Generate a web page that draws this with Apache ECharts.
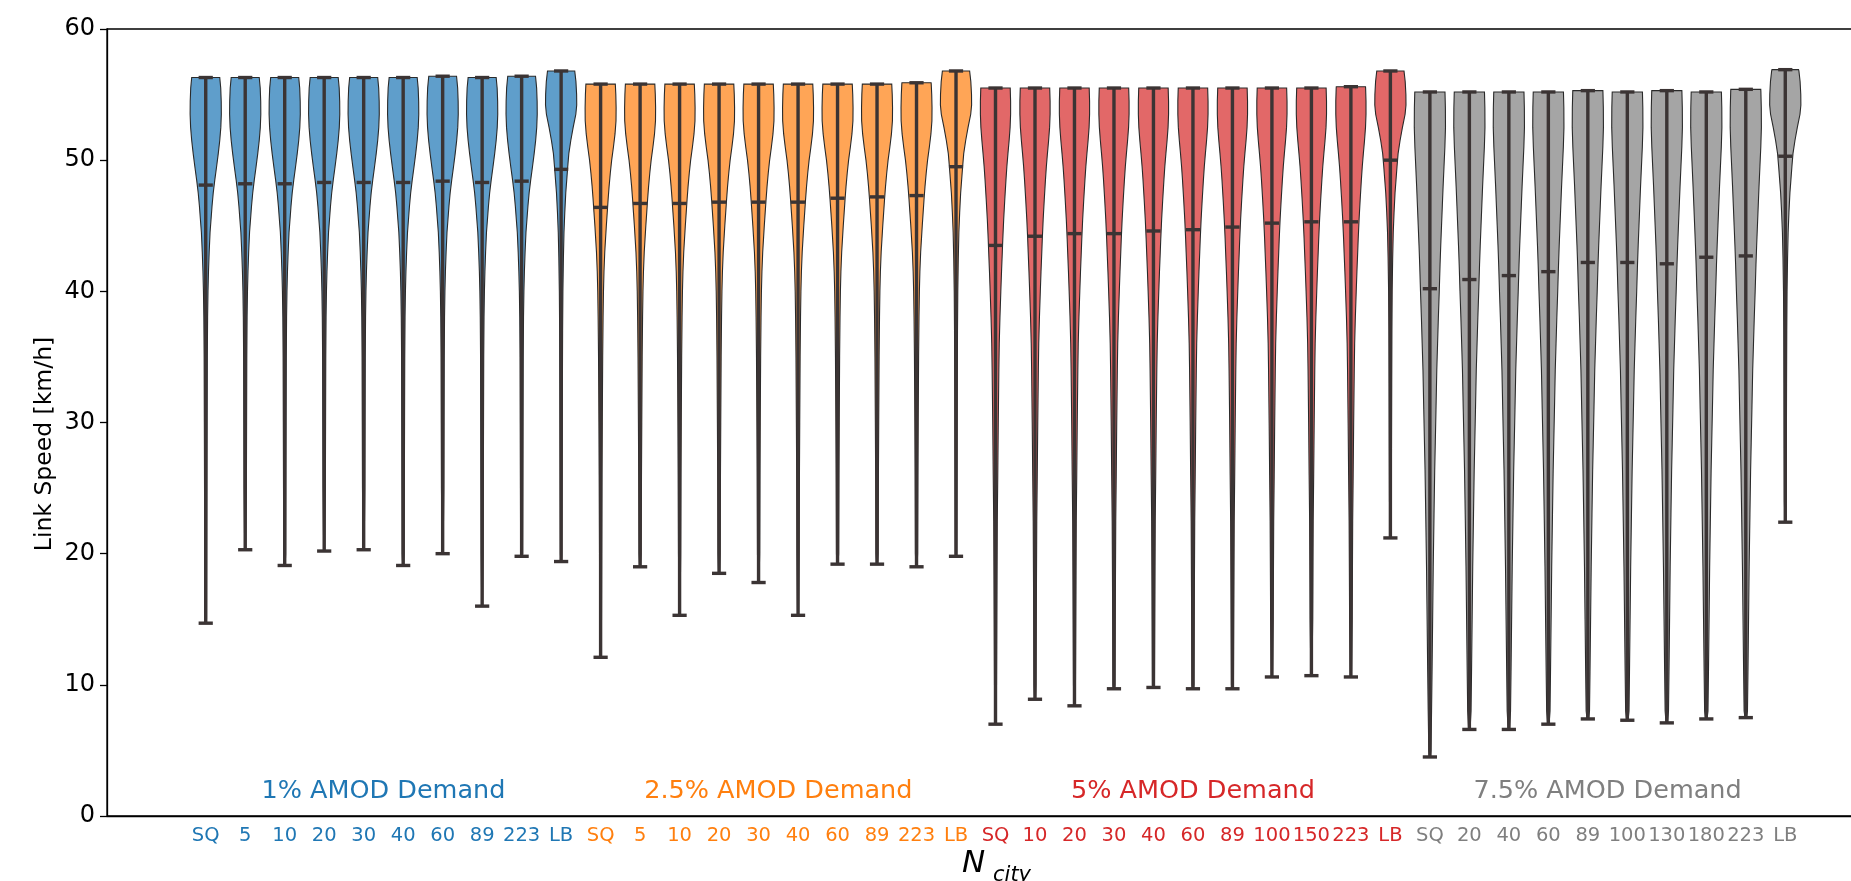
<!DOCTYPE html>
<html><head><meta charset="utf-8">
<script src="https://cdn.jsdelivr.net/npm/echarts@6/dist/echarts.min.js"></script>
<style>html,body{margin:0;padding:0;background:#fff}#c{width:1851px;height:881px}</style>
</head><body><div id="c"></div>
<script>
// ---------------- data ----------------
const groupNames = ['1% AMOD Demand', '2.5% AMOD Demand', '5% AMOD Demand', '7.5% AMOD Demand'];
const groupColors = ['#1f77b4', '#ff7f0e', '#d62728', '#7f7f7f'];
const groupFills = ['#5f9ecb', '#ffa556', '#e26868', '#a5a5a5'];

const blueLabels = ['SQ', '5', '10', '20', '30', '40', '60', '89', '223', 'LB'];
const blueMax  = [56.3, 56.3, 56.3, 56.3, 56.3, 56.3, 56.4, 56.3, 56.4, 56.8];
const blueMean = [48.1, 48.2, 48.2, 48.3, 48.3, 48.3, 48.4, 48.3, 48.4, 49.3];
const blueMin  = [14.7, 20.3, 19.1, 20.2, 20.3, 19.1, 20.0, 16.0, 19.8, 19.4];

const orangeLabels = ['SQ', '5', '10', '20', '30', '40', '60', '89', '223', 'LB'];
const orangeMax  = [55.8, 55.8, 55.8, 55.8, 55.8, 55.8, 55.8, 55.8, 55.9, 56.8];
const orangeMean = [46.4, 46.7, 46.7, 46.8, 46.8, 46.8, 47.1, 47.2, 47.3, 49.5];
const orangeMin  = [12.1, 19.0, 15.3, 18.5, 17.8, 15.3, 19.2, 19.2, 19.0, 19.8];

const redLabels = ['SQ', '10', '20', '30', '40', '60', '89', '100', '150', '223', 'LB'];
const redMax  = [55.5, 55.5, 55.5, 55.5, 55.5, 55.5, 55.5, 55.5, 55.5, 55.6, 56.8];
const redMean = [43.5, 44.2, 44.4, 44.4, 44.6, 44.7, 44.9, 45.2, 45.3, 45.3, 50.0];
const redMin  = [7.0, 8.9, 8.4, 9.7, 9.8, 9.7, 9.7, 10.6, 10.7, 10.6, 21.2];

const grayLabels = ['SQ', '20', '40', '60', '89', '100', '130', '180', '223', 'LB'];
const grayMax  = [55.2, 55.2, 55.2, 55.2, 55.3, 55.2, 55.3, 55.2, 55.4, 56.9];
const grayMean = [40.2, 40.9, 41.2, 41.5, 42.2, 42.2, 42.1, 42.6, 42.7, 50.3];
const grayMin  = [4.5, 6.6, 6.6, 7.0, 7.4, 7.3, 7.1, 7.4, 7.5, 22.4];

// violin outlines: [speed, full width as share of a category]
const blueShape = [[57.0,0.66],[56.3,0.71],[55.5,0.76],[54.5,0.785],[53.5,0.79],[52.5,0.765],[51.5,0.71],[50.5,0.635],[49.5,0.55],[48.5,0.46],[47.5,0.38],[46.5,0.32],[45.5,0.27],[44.5,0.22],[43.0,0.175],[41.5,0.14],[40.0,0.115],[38.0,0.095],[35.0,0.08],[30.0,0.07],[25.0,0.06],[20.0,0.05],[15.0,0.04],[10.0,0.03],[0,0.02]];
const orangeShape = [[56.5,0.70],[55.8,0.745],[55.0,0.77],[54.0,0.785],[53.0,0.78],[52.0,0.73],[51.0,0.65],[50.0,0.56],[49.0,0.49],[48.0,0.43],[47.0,0.38],[46.0,0.335],[45.0,0.29],[44.0,0.25],[43.0,0.21],[41.5,0.17],[40.0,0.145],[38.0,0.125],[35.0,0.105],[30.0,0.085],[26.0,0.07],[20.0,0.055],[15.0,0.045],[10.0,0.035],[0,0.02]];
const redShape = [[56.0,0.72],[55.5,0.745],[54.5,0.765],[53.5,0.765],[52.5,0.74],[51.5,0.69],[50.5,0.63],[49.5,0.575],[48.5,0.53],[47.0,0.47],[45.5,0.415],[44.0,0.37],[43.0,0.345],[41.5,0.305],[40.0,0.27],[38.0,0.225],[36.0,0.19],[34.0,0.17],[30.0,0.14],[26.0,0.115],[22.5,0.09],[18.0,0.075],[15.0,0.065],[10.0,0.05],[5.0,0.03],[0,0.02]];
const grayShape = [[56.0,0.74],[55.2,0.765],[54.0,0.785],[52.5,0.79],[51.0,0.76],[49.5,0.715],[48.0,0.67],[46.5,0.63],[45.0,0.59],[43.5,0.55],[42.0,0.515],[40.0,0.475],[38.0,0.43],[36.0,0.39],[34.0,0.35],[31.0,0.31],[28.5,0.275],[26.4,0.245],[23.0,0.21],[19.0,0.17],[15.0,0.14],[11.0,0.11],[8.0,0.085],[5.0,0.055],[0,0.03]];
const lbShape = [[57.2,0.62],[56.8,0.69],[56.0,0.75],[55.0,0.785],[54.2,0.79],[53.5,0.745],[52.5,0.61],[51.5,0.49],[50.5,0.39],[49.5,0.335],[48.5,0.285],[47.5,0.235],[46.0,0.185],[44.5,0.145],[42.5,0.115],[40.0,0.09],[37.0,0.075],[33.0,0.065],[28.0,0.055],[24.0,0.045],[20.0,0.035],[0,0.02]];

const yTicks = [0, 10, 20, 30, 40, 50, 60];

// ---------------- build ----------------
const shapes = [blueShape, orangeShape, redShape, grayShape, lbShape];
const groupsData = [
  [blueLabels, blueMin, blueMean, blueMax],
  [orangeLabels, orangeMin, orangeMean, orangeMax],
  [redLabels, redMin, redMean, redMax],
  [grayLabels, grayMin, grayMean, grayMax]
];
const PAD_L = 2, PAD_R = 2;
const labelOf = [], groupOf = [], violins = [], titleData = [];
for (let i = 0; i < PAD_L; i++) { labelOf.push(''); groupOf.push(-1); }
groupsData.forEach((gd, g) => {
  const start = labelOf.length;
  gd[0].forEach((lab, i) => {
    const xi = labelOf.length;
    labelOf.push(lab); groupOf.push(g);
    violins.push([xi, gd[1][i], gd[2][i], gd[3][i], g, lab === 'LB' ? 4 : g]);
  });
  titleData.push([start, labelOf.length - 1, 1.85, g]);
});
for (let i = 0; i < PAD_R; i++) { labelOf.push(''); groupOf.push(-1); }
const xData = labelOf.map((l, i) => 'c' + i);

function widthAt(prof, v) {
  if (v >= prof[0][0]) return prof[0][1];
  for (let k = 0; k < prof.length - 1; k++) {
    const a = prof[k], b = prof[k + 1];
    if (v <= a[0] && v >= b[0]) {
      const t = (a[0] - v) / (a[0] - b[0]);
      return a[1] + (b[1] - a[1]) * t;
    }
  }
  return prof[prof.length - 1][1];
}

const LINE = '#3b3434';
function renderViolin(params, api) {
  const xi = api.value(0), vmin = api.value(1), vmean = api.value(2), vmax = api.value(3);
  const g = api.value(4), s = api.value(5);
  const prof = shapes[s];
  const cw = api.size([1, 0])[0];
  const cx = api.coord([xi, 0])[0];
  const yOf = v => api.coord([xi, v])[1];
  const vals = [vmax].concat(prof.map(p => p[0]).filter(v => v < vmax && v > vmin)).concat([vmin]);
  const right = vals.map((v, k) => {
    let w = widthAt(prof, v);
    if (k === vals.length - 1) w *= 0.5;
    return [cx + w * cw / 2, yOf(v)];
  });
  const left = right.slice().reverse().map(p => [2 * cx - p[0], p[1]]);
  const capHalf = cw * 0.18;
  const yMax = yOf(vmax), yMin = yOf(vmin), yMean = yOf(vmean);
  const lw = 3.4;
  return {
    type: 'group',
    children: [
      { type: 'polygon', shape: { points: right.concat(left) },
        style: { fill: groupFills[g], stroke: '#2a2a2a', lineWidth: 1.1 } },
      { type: 'line', shape: { x1: cx, y1: yMax, x2: cx, y2: yMin }, style: { stroke: LINE, lineWidth: lw } },
      { type: 'line', shape: { x1: cx - capHalf, y1: yMax, x2: cx + capHalf, y2: yMax }, style: { stroke: LINE, lineWidth: lw } },
      { type: 'line', shape: { x1: cx - capHalf, y1: yMin, x2: cx + capHalf, y2: yMin }, style: { stroke: LINE, lineWidth: lw } },
      { type: 'line', shape: { x1: cx - capHalf, y1: yMean, x2: cx + capHalf, y2: yMean }, style: { stroke: LINE, lineWidth: lw } }
    ]
  };
}

function renderTitle(params, api) {
  const a = api.coord([api.value(0), api.value(2)]);
  const b = api.coord([api.value(1), api.value(2)]);
  const g = api.value(3);
  return {
    type: 'text',
    style: { x: (a[0] + b[0]) / 2, y: a[1], text: groupNames[g], fill: groupColors[g],
      font: '25.5px "DejaVu Sans"', align: 'center', verticalAlign: 'middle' }
  };
}

const FONT = 'DejaVu Sans';
const rich = {};
groupColors.forEach((c, g) => { rich['g' + g] = { color: c, fontSize: 19.5, fontFamily: FONT }; });

const chart = echarts.init(document.getElementById('c'), null, { renderer: 'canvas' });
chart.setOption({
  animation: false,
  backgroundColor: '#fff',
  grid: { left: 107, top: 29, height: 787, width: 1777, outerBoundsMode: 'none', containLabel: false,
    show: true, borderColor: '#000', borderWidth: 1.3, backgroundColor: 'transparent' },
  xAxis: {
    type: 'category', data: xData, boundaryGap: true,
    axisLine: { lineStyle: { color: '#000', width: 1.3 } },
    axisTick: { alignWithLabel: true, length: 7, lineStyle: { color: '#000', width: 1.3 },
      interval: (i) => groupOf[i] >= 0 },
    axisLabel: { interval: 0, margin: 10, rich: rich,
      formatter: (v, i) => groupOf[i] >= 0 ? '{g' + groupOf[i] + '|' + labelOf[i] + '}' : '' },
    splitLine: { show: false }
  },
  yAxis: {
    type: 'value', min: yTicks[0], max: yTicks[yTicks.length - 1], interval: 10,
    axisLine: { show: true, lineStyle: { color: '#000', width: 1.3 } },
    axisTick: { show: true, length: 7, lineStyle: { color: '#000', width: 1.3 } },
    axisLabel: { fontSize: 24, color: '#000', fontFamily: FONT, margin: 12 },
    splitLine: { show: false }
  },
  graphic: [
    { type: 'text', x: 45, y: 444, rotation: Math.PI / 2,
      style: { text: 'Link Speed [km/h]', font: '23.5px "DejaVu Sans"', fill: '#000', align: 'center', verticalAlign: 'middle' } },
    { type: 'text', x: 962, y: 864,
      style: { text: 'N', font: 'italic 31px "DejaVu Sans"', fill: '#000', align: 'left', verticalAlign: 'middle' } },
    { type: 'text', x: 993, y: 876,
      style: { text: 'city', font: 'italic 21px "DejaVu Sans"', fill: '#000', align: 'left', verticalAlign: 'middle' } }
  ],
  series: [
    { type: 'custom', name: 'violins', renderItem: renderViolin, data: violins,
      encode: { x: 0, y: [1, 2, 3] }, clip: false, z: 2 },
    { type: 'custom', name: 'titles', renderItem: renderTitle, data: titleData,
      encode: { x: [0, 1], y: 2 }, clip: false, z: 3, silent: true }
  ]
});
</script></body></html>
